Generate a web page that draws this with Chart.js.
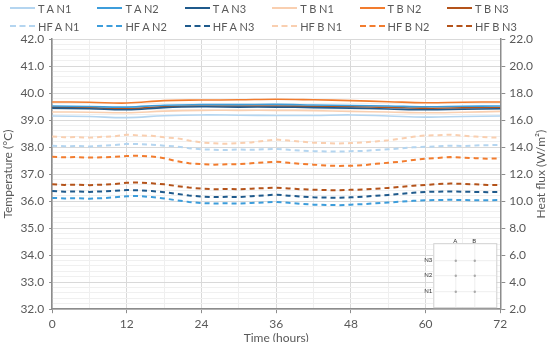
<!DOCTYPE html>
<html>
<head>
<meta charset="utf-8">
<script src="https://cdn.jsdelivr.net/npm/chart.js@4.4.1/dist/chart.umd.min.js"></script>
<style>
  html, body { margin: 0; padding: 0; background: #fff; }
  #wrap { position: relative; width: 550px; height: 342px; font-family: Lato, "Open Sans", sans-serif; }
  #chart { position: absolute; left: 0; top: 0; }
  #legend { position: absolute; left: 0; top: 0; width: 550px; height: 36px; }
  .lg-item { position: absolute; display: flex; align-items: center; font-size: 11px; color: #595959; white-space: nowrap; }
  .lg-line { width: 25px; height: 0; margin-right: 3px; }
</style>
</head>
<body>
<div id="wrap">
  <canvas id="chart" width="550" height="342"></canvas>
  <div id="legend"></div>
</div>
<script>
// time axes
const tT = [0, 6, 12, 18, 24, 30, 36, 42, 48, 54, 60, 66, 72];
const tHF = [0, 2, 4, 6, 8, 10, 12, 14, 16, 18, 20, 22, 24, 26, 28, 30, 32, 34, 36,
             38, 40, 42, 44, 46, 48, 50, 52, 54, 56, 58, 60, 62, 64, 66, 68, 70, 72];

// temperatures (°C), read every 6 h
const tAN1 = [39.15, 39.13, 39.09, 39.16, 39.19, 39.18, 39.17, 39.17, 39.19, 39.15, 39.11, 39.13, 39.15];
const tAN2 = [39.52, 39.50, 39.48, 39.55, 39.57, 39.57, 39.58, 39.56, 39.54, 39.52, 39.49, 39.51, 39.52];
const tAN3 = [39.44, 39.42, 39.38, 39.46, 39.49, 39.48, 39.48, 39.46, 39.44, 39.41, 39.38, 39.40, 39.42];
const tBN1 = [39.30, 39.29, 39.27, 39.33, 39.36, 39.36, 39.36, 39.35, 39.32, 39.30, 39.27, 39.29, 39.32];
const tBN2 = [39.67, 39.66, 39.63, 39.72, 39.74, 39.75, 39.77, 39.75, 39.72, 39.68, 39.64, 39.66, 39.67];
const tBN3 = [39.48, 39.46, 39.42, 39.50, 39.52, 39.52, 39.52, 39.51, 39.49, 39.47, 39.44, 39.45, 39.46];

// heat flux (W/m2), read every 2 h
const hfAN1 = [14.10, 14.06, 14.08, 14.04, 14.10, 14.14, 14.24, 14.22, 14.18, 14.10, 14.04, 13.92, 13.84,
               13.80, 13.78, 13.82, 13.80, 13.84, 13.86, 13.80, 13.74, 13.70, 13.68, 13.66, 13.70, 13.72,
               13.78, 13.84, 13.90, 13.98, 14.02, 14.06, 14.10, 14.08, 14.12, 14.14, 14.16];
const hfAN2 = [10.24, 10.20, 10.22, 10.18, 10.22, 10.28, 10.36, 10.38, 10.30, 10.20, 10.06, 9.94, 9.86,
               9.82, 9.84, 9.82, 9.86, 9.90, 9.94, 9.88, 9.80, 9.74, 9.72, 9.70, 9.74, 9.78,
               9.84, 9.90, 9.96, 10.02, 10.06, 10.08, 10.10, 10.08, 10.06, 10.06, 10.08];
const hfAN3 = [10.74, 10.70, 10.72, 10.68, 10.72, 10.76, 10.82, 10.80, 10.74, 10.66, 10.54, 10.42, 10.34,
               10.30, 10.32, 10.30, 10.36, 10.42, 10.48, 10.40, 10.34, 10.28, 10.26, 10.24, 10.28, 10.32,
               10.40, 10.46, 10.54, 10.62, 10.68, 10.70, 10.72, 10.70, 10.68, 10.66, 10.68];
const hfBN1 = [14.78, 14.72, 14.74, 14.70, 14.76, 14.80, 14.92, 14.86, 14.84, 14.72, 14.66, 14.48, 14.34,
               14.28, 14.24, 14.30, 14.34, 14.46, 14.56, 14.48, 14.40, 14.32, 14.30, 14.26, 14.30, 14.34,
               14.42, 14.50, 14.62, 14.76, 14.86, 14.88, 14.92, 14.84, 14.78, 14.72, 14.70];
const hfBN2 = [13.28, 13.24, 13.26, 13.22, 13.24, 13.28, 13.34, 13.36, 13.30, 13.18, 12.96, 12.80, 12.74,
               12.70, 12.72, 12.74, 12.80, 12.86, 12.92, 12.84, 12.76, 12.70, 12.64, 12.60, 12.62, 12.66,
               12.76, 12.84, 12.92, 13.04, 13.14, 13.20, 13.26, 13.22, 13.18, 13.14, 13.16];
const hfBN3 = [11.24, 11.20, 11.22, 11.18, 11.22, 11.26, 11.36, 11.38, 11.32, 11.24, 11.12, 11.00, 10.92,
               10.88, 10.90, 10.88, 10.92, 10.96, 11.00, 10.94, 10.88, 10.84, 10.82, 10.80, 10.84, 10.86,
               10.92, 10.98, 11.06, 11.14, 11.20, 11.26, 11.30, 11.28, 11.24, 11.20, 11.20];

// colours
const cAN1 = '#b4d5f0', cAN2 = '#3d9ddb', cAN3 = '#1f5a8c';
const cBN1 = '#f9cfb0', cBN2 = '#f27c2e', cBN3 = '#b4531a';

const pts = (xs, ys) => xs.map((x, i) => ({ x: x, y: ys[i] }));

function tSet(label, xs, ys, color) {
  return { label, data: pts(xs, ys), borderColor: color, backgroundColor: color,
           borderWidth: 1.6, pointRadius: 0, tension: 0.4, yAxisID: 'y' };
}
function hfSet(label, xs, ys, color) {
  return { label, data: pts(xs, ys), borderColor: color, backgroundColor: color,
           borderWidth: 2, borderDash: [5, 4], pointRadius: 0, tension: 0, yAxisID: 'y2' };
}

const datasets = [
  tSet('T A N1', tT, tAN1, cAN1),
  tSet('T A N2', tT, tAN2, cAN2),
  tSet('T A N3', tT, tAN3, cAN3),
  tSet('T B N1', tT, tBN1, cBN1),
  tSet('T B N2', tT, tBN2, cBN2),
  tSet('T B N3', tT, tBN3, cBN3),
  hfSet('HF A N1', tHF, hfAN1, cAN1),
  hfSet('HF A N2', tHF, hfAN2, cAN2),
  hfSet('HF A N3', tHF, hfAN3, cAN3),
  hfSet('HF B N1', tHF, hfBN1, cBN1),
  hfSet('HF B N2', tHF, hfBN2, cBN2),
  hfSet('HF B N3', tHF, hfBN3, cBN3)
];

const isInt = v => Math.abs(v - Math.round(v)) < 1e-6;
const axisGrey = '#8c8c8c';
const textGrey = '#595959';

// legend in two rows of six
const legendEl = document.getElementById('legend');
datasets.forEach((ds, i) => {
  const item = document.createElement('div');
  item.className = 'lg-item';
  item.style.left = (10 + (i % 6) * 87.4) + 'px';
  item.style.top = (i < 6 ? 0 : 18) + 'px';
  item.style.height = '16px';
  const line = document.createElement('span');
  line.className = 'lg-line';
  line.style.borderTop = (ds.borderDash ? '2px dashed ' : '2px solid ') + ds.borderColor;
  item.appendChild(line);
  item.appendChild(document.createTextNode(ds.label));
  legendEl.appendChild(item);
});

// small sensor layout inset + right axis title (bottom to top)
const extras = {
  id: 'extras',
  afterDraw(chart) {
    const { ctx, chartArea: a } = chart;
    ctx.save();
    const x0 = a.right - 67, y0 = a.bottom - 66, w = 63, h = 64;
    ctx.fillStyle = '#fff';
    ctx.fillRect(x0, y0, w, h);
    ctx.strokeStyle = '#d0d0d0';
    ctx.lineWidth = 1;
    ctx.strokeRect(x0 + 0.5, y0 + 0.5, w, h);
    const cols = [x0 + 22, x0 + 41];
    const rows = [y0 + 17, y0 + 32, y0 + 48];
    ctx.strokeStyle = '#eeeeee';
    cols.forEach(cx => { ctx.beginPath(); ctx.moveTo(cx + 0.5, y0 + 1); ctx.lineTo(cx + 0.5, y0 + h); ctx.stroke(); });
    rows.forEach(ry => { ctx.beginPath(); ctx.moveTo(x0 + 1, ry + 0.5); ctx.lineTo(x0 + w, ry + 0.5); ctx.stroke(); });
    ctx.fillStyle = '#aaaaaa';
    cols.forEach(cx => rows.forEach(ry => { ctx.beginPath(); ctx.arc(cx + 0.5, ry + 0.5, 1.2, 0, Math.PI * 2); ctx.fill(); }));
    ctx.fillStyle = '#333';
    ctx.font = '6px Lato, sans-serif';
    ctx.textAlign = 'center';
    ctx.textBaseline = 'middle';
    ctx.fillText('A', cols[0], y0 - 2);
    ctx.fillText('B', cols[1], y0 - 2);
    ctx.textAlign = 'right';
    ['N3', 'N2', 'N1'].forEach((n, i) => ctx.fillText(n, x0 - 1, rows[i]));

    ctx.translate(541, (a.top + a.bottom) / 2);
    ctx.rotate(-Math.PI / 2);
    ctx.fillStyle = textGrey;
    ctx.font = '12px Lato, sans-serif';
    ctx.textAlign = 'center';
    ctx.textBaseline = 'middle';
    ctx.fillText('Heat flux (W/m²)', 0, 0);
    ctx.restore();
  }
};

Chart.defaults.font.family = 'Lato, "Open Sans", sans-serif';
Chart.defaults.color = textGrey;

new Chart(document.getElementById('chart'), {
  type: 'line',
  data: { datasets: datasets },
  options: {
    responsive: false,
    animation: false,
    layout: { padding: { top: 39, left: 1, right: 13, bottom: 0 } },
    plugins: { legend: { display: false }, tooltip: { enabled: false } },
    scales: {
      x: {
        type: 'linear', min: 0, max: 72,
        ticks: { stepSize: 6, autoSkip: false, maxRotation: 0, font: { size: 12 }, padding: 4,
                 callback: v => (v % 12 === 0 ? String(v) : '') },
        grid: { color: c => (c.tick && c.tick.value % 12 === 0 ? '#d9d9d9' : '#efefef'),
                tickColor: c => (c.tick && c.tick.value % 12 === 0 ? axisGrey : 'rgba(0,0,0,0)'),
                tickLength: 4 },
        border: { color: axisGrey, width: 1.5 },
        title: { display: true, text: 'Time (hours)', font: { size: 12 }, padding: { top: -5, bottom: -3 } }
      },
      y: {
        position: 'left', min: 32, max: 42,
        ticks: { stepSize: 0.2, autoSkip: false, font: { size: 12 }, padding: 5,
                 callback: v => (isInt(v) ? Number(v).toFixed(1) : '') },
        grid: { color: c => (c.tick && isInt(c.tick.value) ? '#d9d9d9' : '#f0f0f0'),
                tickColor: c => (c.tick && isInt(c.tick.value) ? axisGrey : 'rgba(0,0,0,0)'),
                tickLength: 3 },
        border: { color: axisGrey, width: 1.5 },
        title: { display: true, text: 'Temperature (°C)', font: { size: 12 }, padding: { top: 0, bottom: 0 } }
      },
      y2: {
        position: 'right', min: 2, max: 22,
        ticks: { stepSize: 2, font: { size: 12 }, padding: 4, callback: v => Number(v).toFixed(1) },
        grid: { drawOnChartArea: false, tickColor: axisGrey, tickLength: 5 },
        border: { color: axisGrey, width: 1.5 }
      }
    }
  },
  plugins: [extras]
});
</script>
</body>
</html>
